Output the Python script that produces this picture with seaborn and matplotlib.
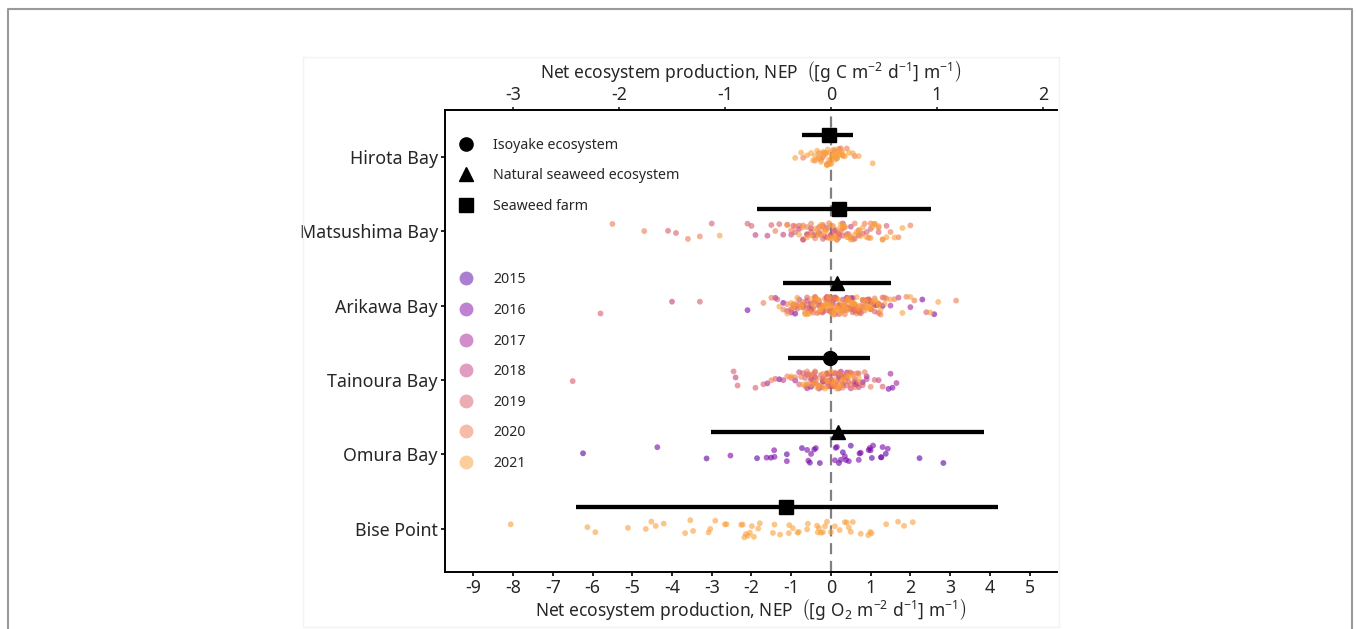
import numpy as np
import pandas as pd
import matplotlib.pyplot as plt
import seaborn as sns
from matplotlib.lines import Line2D
from matplotlib.patches import Rectangle

# sites (top to bottom) and years
sites = ['Hirota Bay', 'Matsushima Bay', 'Arikawa Bay', 'Tainoura Bay', 'Omura Bay', 'Bise Point']
years = ['2015', '2016', '2017', '2018', '2019', '2020', '2021']

# summary per site: mean and range of bar, ecosystem type
site_mean = [-0.05, 0.2, 0.15, -0.03, 0.18, -1.13]
site_lo = [-0.72, -1.86, -1.21, -1.08, -3.02, -6.41]
site_hi = [0.55, 2.52, 1.51, 0.98, 3.85, 4.21]
site_type = ['Seaweed farm', 'Seaweed farm', 'Natural seaweed ecosystem',
             'Isoyake ecosystem', 'Natural seaweed ecosystem', 'Seaweed farm']

# NEP observations [g O2 m-2 d-1] m-1, by site and year
hirota_2020 = [-0.7, -0.4, -0.3, -0.2, -0.1, -0.05, 0.05, 0.1, 0.2, 0.3, 0.4, 0.6,
               -0.25, -0.15, 0.0, 0.15, 0.25]
hirota_2021 = [-0.9, -0.75, -0.6, -0.5, -0.45, -0.4, -0.35, -0.3, -0.25, -0.2, -0.2, -0.15,
               -0.1, -0.1, -0.05, 0.0, 0.0, 0.05, 0.1, 0.1, 0.15, 0.2, 0.25, 0.3, 0.35,
               0.45, 0.55, 0.7, 1.05, -0.32, -0.12, -0.02, 0.08, 0.18, 0.28, 0.12, -0.08,
               0.02, 0.22]

matsu_2018 = [-1.9, -1.6, -1.2, -1.0, -0.8, -0.6, -0.5, -0.3, -0.1, 0.1, 0.3, 0.5,
              -0.7, -0.2, 0.0, 0.2, 0.7]
matsu_2019 = [-4.1, -3.9, -3.0, -2.1, -2.0, -1.5, -1.3, -1.1, -0.9, -0.8, -0.7, -0.6,
              -0.5, -0.4, -0.3, -0.2, -0.1, 0.0, 0.1, 0.2, 0.3, 0.4, 0.6, 0.8, 1.0, 1.2, 1.4,
              -0.95, -0.45, -0.15, 0.15, 0.5, 0.9]
matsu_2020 = [-5.5, -4.7, -3.6, -3.3, -1.4, -1.0, -0.9, -0.7, -0.5, -0.4, -0.3, -0.2,
              -0.15, -0.05, 0.05, 0.1, 0.2, 0.25, 0.35, 0.45, 0.55, 0.7, 0.85, 1.0, 1.1,
              1.3, 1.5, 1.7, 2.0, -0.6, -0.25, 0.0, 0.3, 0.6, 0.95, 1.2]
matsu_2021 = [-2.8, -1.1, -0.8, -0.6, -0.5, -0.4, -0.3, -0.25, -0.2, -0.1, -0.05, 0.0,
              0.05, 0.1, 0.15, 0.2, 0.3, 0.35, 0.4, 0.5, 0.6, 0.7, 0.8, 0.9, 1.0, 1.1,
              1.2, 1.4, 1.6, 1.8, -0.7, -0.35, -0.15, 0.25, 0.45, 0.65, 0.75, 1.05, 1.3]

ari_2016 = [-2.1, -1.2, -0.9, -0.5, -0.2, 0.1, 0.4, 0.7, 1.0, 1.3, 2.3, 2.6,
            -0.7, 0.0, 0.55, 1.15]
ari_2017 = [-1.4, -1.0, -0.7, -0.4, -0.1, 0.2, 0.5, 0.8, 1.1, 1.5, 2.0,
            -0.55, 0.05, 0.35, 0.95]
ari_2018 = [-4.0, -1.1, -0.8, -0.6, -0.4, -0.3, -0.1, 0.0, 0.2, 0.3, 0.5, 0.6, 0.8,
            1.0, 1.2, 1.7, -0.95, -0.5, -0.2, 0.1, 0.4, 0.7, 0.9, 1.1]
ari_2019 = [-5.8, -3.3, -1.35, -1.0, -0.9, -0.7, -0.6, -0.5, -0.4, -0.3, -0.2, -0.1,
            0.0, 0.1, 0.2, 0.3, 0.4, 0.5, 0.6, 0.7, 0.9, 1.1, 1.3, 2.4,
            -0.85, -0.65, -0.45, -0.25, -0.05, 0.15, 0.35, 0.55, 0.75, 0.85, 1.0, 1.2]
ari_2020 = [-1.7, -1.5, -1.2, -1.1, -1.0, -0.9, -0.85, -0.8, -0.7, -0.65, -0.6, -0.5,
            -0.45, -0.4, -0.35, -0.3, -0.25, -0.2, -0.15, -0.1, -0.05, 0.0, 0.05, 0.1,
            0.15, 0.2, 0.25, 0.3, 0.35, 0.4, 0.45, 0.5, 0.55, 0.6, 0.7, 0.75, 0.8, 0.9,
            1.0, 1.1, 1.2, 1.4, 1.6, 1.9, 2.1, 3.15, -0.95, -0.75, -0.55, -0.38, -0.22,
            -0.08, 0.08, 0.22, 0.38, 0.52, 0.65, 0.85, 0.95, 1.05, 1.25, 1.35, -0.12,
            0.02, 0.12, 0.28, 0.42, 0.62]
ari_2021 = [-1.3, -1.1, -1.0, -0.95, -0.85, -0.75, -0.7, -0.6, -0.55, -0.5, -0.4, -0.35,
            -0.3, -0.25, -0.2, -0.15, -0.1, -0.05, 0.0, 0.05, 0.1, 0.15, 0.2, 0.25, 0.3,
            0.35, 0.4, 0.5, 0.55, 0.6, 0.65, 0.7, 0.8, 0.85, 0.9, 1.0, 1.05, 1.15, 1.25,
            1.35, 1.5, 1.8, 2.0, 2.5, 2.7, -0.9, -0.65, -0.45, -0.28, -0.12, 0.02, 0.18,
            0.32, 0.45, 0.58, 0.72, 0.88, 0.98, 1.1, 1.2, -0.02, 0.12, 0.27, 0.42, 0.52]

tai_2016 = [-1.3, -0.5, 0.2, 0.6, 1.45, 1.55, -0.2, 0.35, 0.8]
tai_2017 = [-1.6, -0.9, -0.4, 0.0, 0.4, 0.9, 1.5, 1.65, -0.6, -0.1, 0.25, 0.65]
tai_2018 = [-2.4, -1.2, -0.8, -0.6, -0.4, -0.2, 0.0, 0.2, 0.4, 0.6, 0.9, 1.2,
            -0.5, -0.3, -0.1, 0.1, 0.3, 0.5, 0.7]
tai_2019 = [-6.5, -2.45, -2.35, -1.9, -1.7, -1.4, -1.0, -0.8, -0.7, -0.6, -0.5, -0.4,
            -0.3, -0.2, -0.1, 0.0, 0.1, 0.2, 0.3, 0.4, 0.5, 0.6, 0.8, 1.1, 1.3,
            -0.65, -0.45, -0.25, -0.05, 0.05, 0.15, 0.25, 0.35, 0.45, 0.7]
tai_2020 = [-1.5, -1.1, -0.9, -0.75, -0.65, -0.55, -0.5, -0.45, -0.4, -0.35, -0.3, -0.25,
            -0.2, -0.15, -0.1, -0.05, 0.0, 0.05, 0.1, 0.15, 0.2, 0.25, 0.3, 0.35, 0.4,
            0.5, 0.6, 0.7, 0.85, 1.0, -0.6, -0.38, -0.22, -0.08, 0.02, 0.12, 0.22, 0.32,
            0.45, 0.55, 0.65]
tai_2021 = [-1.0, -0.7, -0.6, -0.5, -0.4, -0.3, -0.2, -0.1, 0.0, 0.1, 0.2, 0.3, 0.45,
            0.55, 0.7, -0.35, -0.15, 0.05, 0.15, 0.25, 0.4]

omura_2015 = [-6.24, -3.13, -1.86, -1.51, -1.11, -0.73, -0.53, -0.42, -0.28, 0.12, 0.2,
              0.3, 0.38, 0.5, 0.72, 0.95, 1.03, 1.26, 1.38, 2.23, 2.83]
omura_2016 = [-4.37, -2.53, -1.62, -1.42, -1.43, -1.11, -0.6, -0.57, -0.5, -0.38, 0.1,
              0.15, 0.25, 0.35, 0.45, 0.7, 0.75, 0.98, 1.0, 1.06, 1.27, 1.3, 1.43]

bise_2021 = [-8.06, -6.13, -5.93, -5.11, -4.66, -4.52, -4.41, -4.21, -3.67, -3.54, -3.47,
             -3.08, -3.04, -2.91, -2.67, -2.63, -2.26, -2.22, -2.18, -2.14, -2.09, -2.04,
             -1.99, -1.94, -1.83, -1.79, -1.46, -1.42, -1.28, -1.06, -1.05, -0.96, -0.84,
             -0.81, -0.6, -0.58, -0.35, -0.33, -0.3, -0.25, -0.2, -0.15, -0.1, 0.0, 0.1,
             0.22, 0.35, 0.4, 0.45, 0.5, 0.55, 0.75, 0.94, 0.99, 1.02, 1.39, 1.69, 1.84,
             2.06]

groups = [
    ('Hirota Bay', '2020', hirota_2020), ('Hirota Bay', '2021', hirota_2021),
    ('Matsushima Bay', '2018', matsu_2018), ('Matsushima Bay', '2019', matsu_2019),
    ('Matsushima Bay', '2020', matsu_2020), ('Matsushima Bay', '2021', matsu_2021),
    ('Arikawa Bay', '2016', ari_2016), ('Arikawa Bay', '2017', ari_2017),
    ('Arikawa Bay', '2018', ari_2018), ('Arikawa Bay', '2019', ari_2019),
    ('Arikawa Bay', '2020', ari_2020), ('Arikawa Bay', '2021', ari_2021),
    ('Tainoura Bay', '2016', tai_2016), ('Tainoura Bay', '2017', tai_2017),
    ('Tainoura Bay', '2018', tai_2018), ('Tainoura Bay', '2019', tai_2019),
    ('Tainoura Bay', '2020', tai_2020), ('Tainoura Bay', '2021', tai_2021),
    ('Omura Bay', '2015', omura_2015), ('Omura Bay', '2016', omura_2016),
    ('Bise Point', '2021', bise_2021),
]
df = pd.concat([pd.DataFrame({'site': s, 'year': y, 'nep': v}) for s, y, v in groups],
               ignore_index=True)

sns.set_theme(style='white')
plt.rcParams['font.family'] = ['Noto Sans', 'DejaVu Sans']
plt.rcParams['mathtext.fontset'] = 'custom'
plt.rcParams['mathtext.rm'] = 'Noto Sans'
plt.rcParams['mathtext.it'] = 'Noto Sans:italic'

palette = [plt.cm.plasma(v) for v in np.linspace(0.15, 0.78, 7)]
type_marker = {'Isoyake ecosystem': 'o', 'Natural seaweed ecosystem': '^', 'Seaweed farm': 's'}

fig = plt.figure(figsize=(13.56, 6.29), dpi=100)
ax = fig.add_axes([0.328, 0.0906, 0.4515, 0.7345])

# outer frame and faint panel
fig.add_artist(Line2D([0.006, 0.006, 0.997, 0.997], [0.0, 0.9857, 0.9857, 0.0],
                      transform=fig.transFigure, color='#9a9a9a', lw=1.5))
fig.add_artist(Rectangle((303 / 1356, 1 - 627 / 629), 756 / 1356, 570 / 629,
                         transform=fig.transFigure, fill=False, ec='#f3f3f3', lw=1))

ax.axvline(0, color='#808080', ls=(0, (5, 3)), lw=1.6, zorder=0)

np.random.seed(3)
sns.stripplot(data=df, x='nep', y='site', hue='year', order=sites, hue_order=years,
              palette=palette, jitter=0.12, size=4.2, alpha=0.6, linewidth=0,
              legend=False, ax=ax, zorder=2)

# mean and bar, above each strip
ypos = np.arange(len(sites)) - 0.3
for i in range(len(sites)):
    ax.hlines(ypos[i], site_lo[i], site_hi[i], color='black', lw=3.1, zorder=3)
    ax.plot(site_mean[i], ypos[i], marker=type_marker[site_type[i]], color='black',
            markersize=10, zorder=4)

ax.set_xlim(-9.72, 5.69)
ax.set_ylim(5.58, -0.63)
ax.set_xticks(range(-9, 6))
ax.set_xticklabels([str(t) for t in range(-9, 6)])
ax.set_ylabel('')
ax.set_xlabel(r'Net ecosystem production, NEP  $\left([\mathrm{g\ O_2\ m^{-2}\ d^{-1}}]\ \mathrm{m^{-1}}\right)$',
              fontsize=12.5, labelpad=0)
ax.tick_params(axis='both', labelsize=12.8, length=3, width=1.2, color='black',
               direction='out', pad=2, bottom=True, left=True)
for side in ['left', 'bottom']:
    ax.spines[side].set_linewidth(1.4)
    ax.spines[side].set_color('black')
ax.spines['right'].set_visible(False)
ax.spines['top'].set_visible(False)

sec = ax.secondary_xaxis('top', functions=(lambda x: x * 0.375, lambda x: x / 0.375))
sec.set_xticks([-3, -2, -1, 0, 1, 2])
sec.set_xticklabels(['-3', '-2', '-1', '0', '1', '2'])
sec.tick_params(labelsize=12.8, length=2, width=1.2, pad=2)
sec.spines['top'].set_linewidth(1.4)
sec.spines['top'].set_color('black')
sec.set_xlabel(r'Net ecosystem production, NEP  $\left([\mathrm{g\ C\ m^{-2}\ d^{-1}}]\ \mathrm{m^{-1}}\right)$',
               fontsize=12.5, labelpad=6)

# legends
type_handles = [Line2D([], [], ls='', marker=type_marker[t], color='black', markersize=9.5)
                for t in type_marker]
leg1 = ax.legend(type_handles, list(type_marker), loc='upper left',
                 bbox_to_anchor=(0.0, 0.968), frameon=False, fontsize=10.2,
                 handletextpad=1.3, labelspacing=1.12, handlelength=1.2)
ax.add_artist(leg1)
year_handles = [Line2D([], [], ls='', marker='o', color=c, alpha=0.5, markersize=10,
                       markeredgewidth=0)
                for c in palette]
ax.legend(year_handles, years, loc='upper left', bbox_to_anchor=(0.0, 0.676),
          frameon=False, fontsize=10.2, handletextpad=1.3, labelspacing=1.1,
          handlelength=1.2)

plt.savefig('out.png', dpi=100)
plt.close()
